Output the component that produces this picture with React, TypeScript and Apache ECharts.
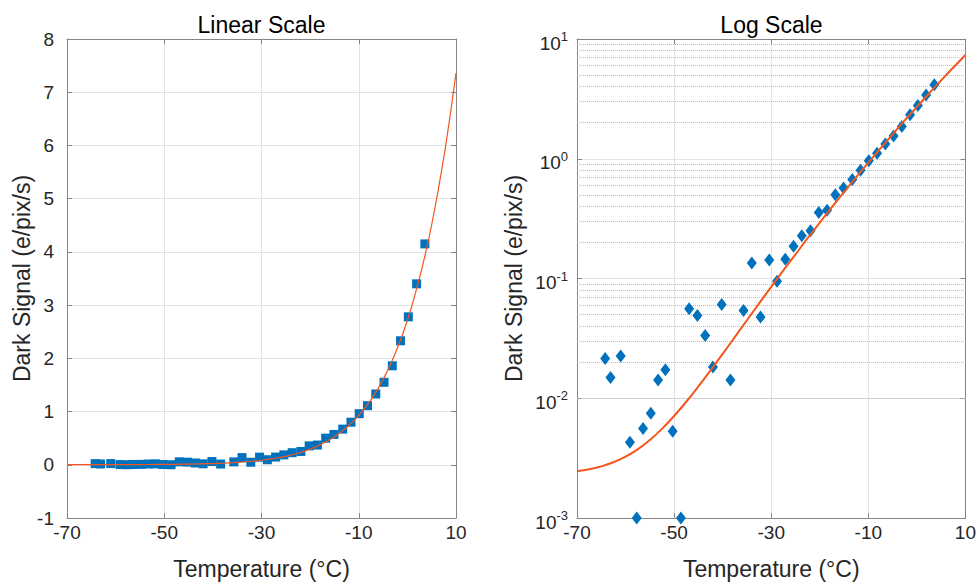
import React, { useEffect, useRef } from 'react';
import * as echarts from 'echarts';

// Measured temperatures (°C) and dark signal (e/pix/s)
const tempC = [-64.2, -63.1, -61.0, -59.1, -57.7, -56.4, -54.8, -53.3, -51.8, -50.3, -48.6, -46.9, -45.2, -43.6, -42.0, -40.2, -38.4, -35.7, -34.0, -32.2, -30.4, -28.8, -27.1, -25.4, -23.7, -21.9, -20.2, -18.5, -16.8, -15.1, -13.3, -11.6, -9.9, -8.2, -6.5, -4.8, -3.1, -1.4, 0.2, 1.9, 3.6];
const darkSignal = [0.0215, 0.0149, 0.0225, 0.0043, 0.0010, 0.0056, 0.0075, 0.0142, 0.0173, 0.0053, 0.0010, 0.0559, 0.0492, 0.0335, 0.0182, 0.0607, 0.0142, 0.0541, 0.135, 0.0476, 0.143, 0.095, 0.145, 0.186, 0.227, 0.250, 0.355, 0.371, 0.50, 0.57, 0.67, 0.80, 0.96, 1.11, 1.33, 1.55, 1.86, 2.33, 2.78, 3.40, 4.15];

// Fitted curve
const fitTemp = [-70, -67.5, -65, -62.5, -60, -57.5, -55, -52.5, -50, -47.5, -45, -42.5, -40, -37.5, -35, -32.5, -30, -27.5, -25, -22.5, -20, -17.5, -15, -12.5, -10, -7.5, -5, -2.5, 0, 2.5, 5, 7.5, 10];
const fitSignal = [0.00246, 0.00255, 0.00270, 0.00292, 0.00325, 0.00374, 0.00448, 0.00555, 0.00711, 0.00935, 0.01256, 0.0171, 0.0235, 0.0324, 0.0448, 0.0619, 0.0852, 0.117, 0.159, 0.217, 0.293, 0.394, 0.527, 0.701, 0.928, 1.22, 1.60, 2.09, 2.71, 3.51, 4.51, 5.78, 7.36];

// Tick values
const xTicks = [-70, -50, -30, -10, 10];
const logMinorTicks = [0.002, 0.003, 0.004, 0.005, 0.006, 0.007, 0.008, 0.009, 0.02, 0.03, 0.04, 0.05, 0.06, 0.07, 0.08, 0.09, 0.2, 0.3, 0.4, 0.5, 0.6, 0.7, 0.8, 0.9, 2, 3, 4, 5, 6, 7, 8, 9];

const FONT = '"Liberation Sans", Arial, Helvetica, sans-serif';
const BLUE = '#0072BD';
const ORANGE = '#F4561E';
const FRAME = '#858585';
const TXT = '#262626';
const GRIDC = '#e2e2e2';

export default function App() {
  const ref = useRef<HTMLDivElement>(null);
  useEffect(() => {
    if (!ref.current) return;
    const chart = echarts.init(ref.current, null, { renderer: 'svg' });
    const pts = tempC.map((t, i) => [t, darkSignal[i]]);
    const fit = fitTemp.map((t, i) => [t, fitSignal[i]]);

    const bottomX = (gi: number) => ({
      gridIndex: gi,
      type: 'value',
      min: -70,
      max: 10,
      position: 'bottom',
      axisLine: { show: true, onZero: false, lineStyle: { color: FRAME, width: 1 } },
      axisTick: { show: true, inside: true, length: 5, customValues: xTicks, lineStyle: { color: FRAME } },
      axisLabel: { customValues: xTicks, fontSize: 19, color: TXT, margin: 5, fontFamily: FONT },
      splitLine: { show: true, lineStyle: { color: GRIDC, width: 1 } },
      name: 'Temperature (°C)',
      nameLocation: 'middle',
      nameGap: 39,
      nameTextStyle: { fontSize: 23, color: TXT, fontFamily: FONT },
    });
    const topX = (gi: number) => ({
      gridIndex: gi,
      type: 'value',
      min: -70,
      max: 10,
      position: 'top',
      axisLine: { show: true, onZero: false, lineStyle: { color: FRAME, width: 1 } },
      axisTick: { show: true, inside: true, length: 5, customValues: xTicks, lineStyle: { color: FRAME } },
      axisLabel: { show: false },
      splitLine: { show: false },
    });

    const option: any = {
      animation: false,
      backgroundColor: '#ffffff',
      graphic: [
        { type: 'text', x: 261.5, y: 25, style: { text: 'Linear Scale', fontSize: 23, fontFamily: FONT, fill: '#000', align: 'center', verticalAlign: 'middle', textAlign: 'center', textVerticalAlign: 'middle' } },
        { type: 'text', x: 771.5, y: 25, style: { text: 'Log Scale', fontSize: 23, fontFamily: FONT, fill: '#000', align: 'center', verticalAlign: 'middle', textAlign: 'center', textVerticalAlign: 'middle' } },
      ],
      grid: [
        { left: 67, top: 39, width: 389, height: 480, containLabel: false },
        { left: 577, top: 39, width: 389, height: 480, containLabel: false },
      ],
      xAxis: [bottomX(0), topX(0), bottomX(1), topX(1)],
      yAxis: [
        {
          gridIndex: 0,
          type: 'value',
          min: -1,
          max: 8,
          interval: 1,
          position: 'left',
          axisLine: { show: true, onZero: false, lineStyle: { color: FRAME } },
          axisTick: { show: true, inside: true, length: 5, lineStyle: { color: FRAME } },
          axisLabel: { fontSize: 19, color: TXT, margin: 13, fontFamily: FONT },
          splitLine: { show: true, lineStyle: { color: GRIDC } },
          name: 'Dark Signal (e/pix/s)',
          nameLocation: 'middle',
          nameGap: 33,
          nameTextStyle: { fontSize: 23, color: TXT, fontFamily: FONT },
        },
        {
          gridIndex: 0,
          type: 'value',
          min: -1,
          max: 8,
          interval: 1,
          position: 'right',
          axisLine: { show: true, onZero: false, lineStyle: { color: FRAME } },
          axisTick: { show: true, inside: true, length: 5, lineStyle: { color: FRAME } },
          axisLabel: { show: false },
          splitLine: { show: false },
        },
        {
          gridIndex: 1,
          type: 'log',
          logBase: 10,
          min: 0.001,
          max: 10,
          position: 'left',
          axisLine: { show: true, onZero: false, lineStyle: { color: FRAME } },
          axisTick: { show: true, inside: true, length: 5, lineStyle: { color: FRAME } },
          axisLabel: {
            margin: 9,
            padding: [8, 0, 0, 0],
            formatter: (v: number) => `{b|10}{s|${Math.round(Math.log10(v))}}`,
            rich: {
              b: { fontSize: 19, color: TXT, fontFamily: FONT, lineHeight: 26 },
              s: { fontSize: 13, color: TXT, fontFamily: FONT, lineHeight: 10, verticalAlign: 'top' },
            },
          },
          splitLine: { show: true, lineStyle: { color: GRIDC } },
          name: 'Dark Signal (e/pix/s)',
          nameLocation: 'middle',
          nameGap: 52,
          nameTextStyle: { fontSize: 23, color: TXT, fontFamily: FONT },
        },
        {
          gridIndex: 1,
          type: 'log',
          logBase: 10,
          min: 0.001,
          max: 10,
          position: 'right',
          axisLine: { show: true, onZero: false, lineStyle: { color: FRAME } },
          axisTick: { show: true, inside: true, length: 5, lineStyle: { color: FRAME } },
          axisLabel: { show: false },
          splitLine: { show: false },
        },
      ],
      series: [
        {
          type: 'scatter',
          xAxisIndex: 0,
          yAxisIndex: 0,
          data: pts,
          symbol: 'rect',
          symbolSize: 9,
          itemStyle: { color: BLUE, opacity: 1 },
          z: 2,
        },
        {
          type: 'line',
          xAxisIndex: 0,
          yAxisIndex: 0,
          data: fit,
          smooth: 0.4,
          showSymbol: false,
          symbol: 'none',
          lineStyle: { color: ORANGE, width: 1.2 },
          z: 3,
        },
        {
          type: 'line',
          xAxisIndex: 2,
          yAxisIndex: 2,
          data: [],
          z: 1,
          markLine: {
            silent: true,
            z: 1,
            symbol: ['none', 'none'],
            label: { show: false },
            emphasis: { disabled: true },
            lineStyle: { color: '#bcbcbc', type: 'dotted', width: 1 },
            data: logMinorTicks.map((v) => ({ yAxis: v })),
          },
        },
        {
          type: 'scatter',
          xAxisIndex: 2,
          yAxisIndex: 2,
          data: pts,
          symbol: 'diamond',
          symbolSize: [10, 13],
          itemStyle: { color: BLUE, opacity: 1 },
          z: 2,
        },
        {
          type: 'line',
          xAxisIndex: 2,
          yAxisIndex: 2,
          data: fit,
          smooth: 0.4,
          showSymbol: false,
          symbol: 'none',
          lineStyle: { color: ORANGE, width: 2 },
          z: 3,
        },
      ],
    };
    chart.setOption(option);
    return () => chart.dispose();
  }, []);
  return <div ref={ref} style={{ position: 'fixed', left: 0, top: 0, width: 979, height: 585 }} />;
}
